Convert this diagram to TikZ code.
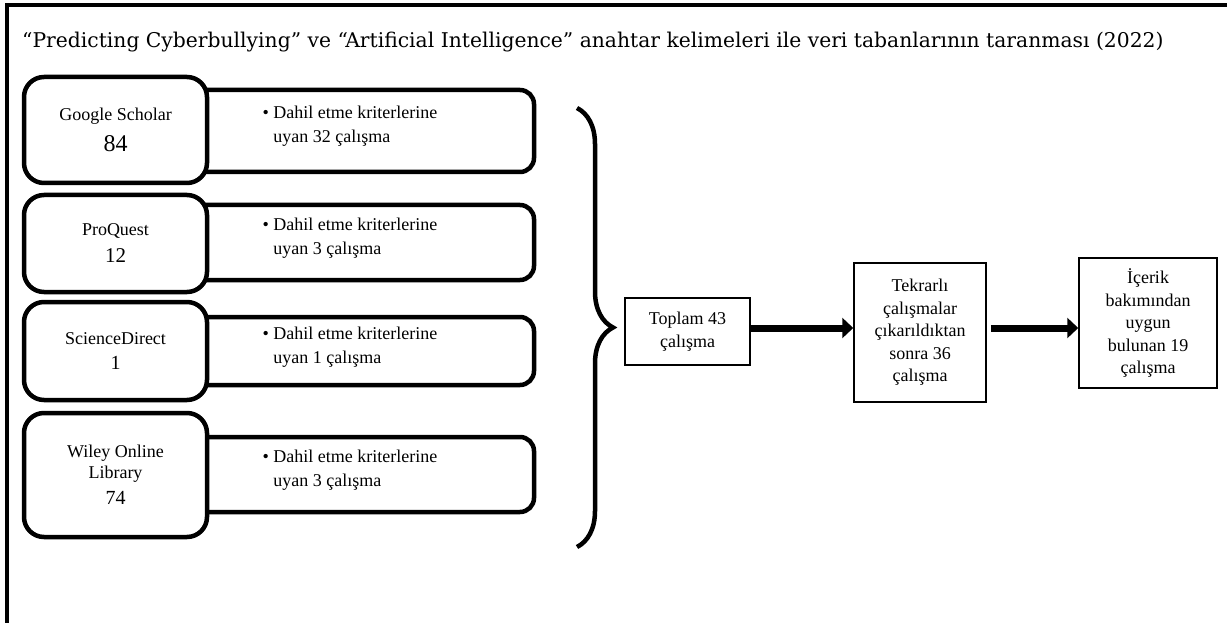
\documentclass[tikz,border=0pt]{standalone}
\usepackage{fontspec}
\setmainfont{Liberation Serif}
\newfontfamily\titlefont{DejaVu Serif}
\usetikzlibrary{arrows.meta,decorations.pathreplacing}

\tikzset{
  dbbox/.style={draw, line width=4.5pt, rounded corners=20pt, fill=white,
    minimum width=183pt, minimum height=#1, align=center,
    font=\fontsize{18}{21}\selectfont},
  critbox/.style={draw, line width=4.5pt, rounded corners=14pt,
    minimum width=354pt, minimum height=#1},
  crittext/.style={anchor=west, align=left, font=\fontsize{18}{24}\selectfont},
  flowbox/.style={draw, line width=1.5pt, align=center, inner sep=0pt,
    font=\fontsize{18}{22.5}\selectfont},
  flowarrow/.style={line width=7pt, -{Triangle[length=11pt,width=20pt]}}
}

\begin{document}
\begin{tikzpicture}[x=1pt, y=-1pt]
    \useasboundingbox (0,0) rectangle (1227,623);

    % Frame (only top and left edges are visible)
    \draw[line width=3.5pt] (7,623) -- (7,5) -- (1227,5);

    % Title
    \node[anchor=base west, inner sep=0pt, font=\titlefont\fontsize{20.3}{22}\selectfont] (title) at (22,48)
      {“Predicting Cyberbullying” ve “Artificial Intelligence” anahtar kelimeleri ile veri tabanlarının taranması (2022)};

    % Criteria boxes (drawn first, the database boxes sit on top)
    \node[critbox=82pt] (gsc) at (357,131) {};
    \node[critbox=75pt] (pqc) at (357,242.5) {};
    \node[critbox=68pt] (sdc) at (357,351) {};
    \node[critbox=75pt] (wolc) at (357,474.5) {};

    % Database boxes
    \node[dbbox=106pt] (gs) at (115.5,130) {Google Scholar\\[10pt]{\fontsize{24}{24}\selectfont 84}};
    \node[dbbox=97pt] (pq) at (115.5,243.5) {ProQuest\\[6pt]{\fontsize{21}{21}\selectfont 12}};
    \node[dbbox=98pt] (sd) at (115.5,351) {ScienceDirect\\[4pt]{\fontsize{20}{20}\selectfont 1}};
    \node[dbbox=124pt] (wol) at (115.5,475) {Wiley Online\\Library\\[5pt]{\fontsize{20}{20}\selectfont 74}};

    % Criteria texts
    \node[crittext] (gst) at (259,126) {• Dahil etme kriterlerine\\\phantom{• }uyan 32 çalışma};
    \node[crittext] (pqt) at (259,238) {• Dahil etme kriterlerine\\\phantom{• }uyan 3 çalışma};
    \node[crittext] (sdt) at (259,347) {• Dahil etme kriterlerine\\\phantom{• }uyan 1 çalışma};
    \node[crittext] (wolt) at (259,470) {• Dahil etme kriterlerine\\\phantom{• }uyan 3 çalışma};

    % Brace
    \coordinate (bracetop) at (577,108);
    \coordinate (bracebot) at (577,547);
    \draw[line width=4.5pt, decorate, decoration={brace, amplitude=36pt}] (bracetop) -- (bracebot);

    % Flow boxes
    \node[flowbox, minimum width=125pt, minimum height=67pt] (total) at (687.5,331.5) {Toplam 43\\çalışma};
    \node[flowbox, minimum width=132pt, minimum height=139pt] (dedup) at (920,332.5)
      {Tekrarlı\\çalışmalar\\çıkarıldıktan\\sonra 36\\çalışma};
    \node[flowbox, minimum width=138pt, minimum height=130pt] (final) at (1148,323)
      {\rule{0pt}{6pt}İçerik\\bakımından\\uygun\\bulunan 19\\çalışma};

    % Arrows
    \draw[flowarrow] ([yshift=3.5pt]total.east) coordinate (arr1) -- (dedup.west |- arr1);
    \draw[flowarrow] ([shift={(4pt,4.5pt)}]dedup.east) coordinate (arr2) -- (final.west |- arr2);
\end{tikzpicture}
\end{document}
